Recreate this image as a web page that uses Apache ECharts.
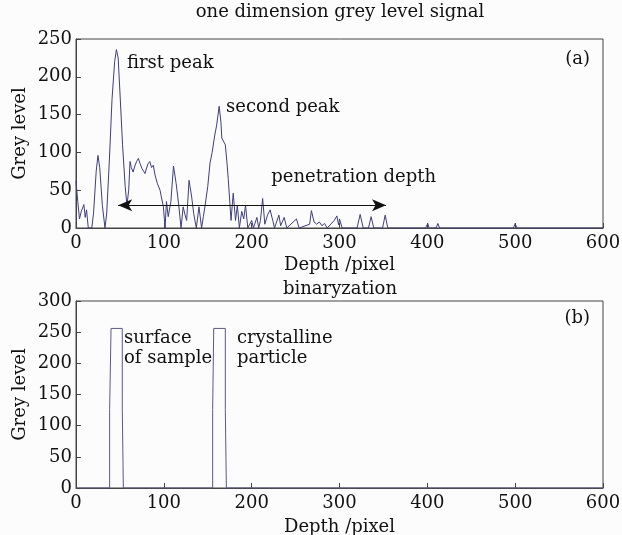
<!DOCTYPE html>
<html>
<head>
<meta charset="utf-8">
<script src="https://cdn.jsdelivr.net/npm/echarts@6/dist/echarts.min.js"></script>
<style>
  html, body { margin: 0; padding: 0; background: #fcfcfc; }
  #chart { width: 622px; height: 535px; }
</style>
</head>
<body>
<div id="chart"></div>
<script>
// (a) one dimension grey level signal
const depthA = [0, 2, 4, 6, 9, 10.5, 12, 14, 18, 20, 23, 25, 27, 30, 33, 35, 38, 41, 44, 46, 48, 50, 53, 56, 58, 60,
	61.5, 63, 65, 67, 69, 71, 73, 75, 77, 78.6, 80, 82, 84, 86, 88, 90, 92.6, 95.7, 97, 99.5, 101.4, 103, 105, 108,
	111, 114, 117, 119.6, 122, 124, 126, 128.7, 131.7, 134, 137, 140, 143, 145, 147, 150, 152.6, 155, 158, 160, 163,
	165, 166, 168, 170, 172, 173.4, 176.5, 179, 181.6, 183.7, 186, 188.7, 191, 193, 195.6, 200, 202, 206, 208, 210,
	212.5, 215, 218, 221, 224, 226, 231, 233, 237, 240, 251, 254, 266, 268, 271, 274, 277, 280, 283, 286, 294, 297,
	299, 300, 303, 320, 323.5, 327, 333, 336, 339, 349, 352, 355, 398, 400.5, 402, 410, 412, 414, 498, 500, 502, 600];
const greyA = [62, 35, 12, 22, 31, 14, 24, 0, 0, 20, 75, 96, 80, 30, 0, 20, 90, 170, 220, 236, 225, 180, 110, 55, 30, 50,
	88, 80, 74, 82, 88, 92, 85, 79, 75, 72, 78, 85, 88, 80, 83, 70, 59, 50, 42, 28, 0, 35, 15, 35,
	82, 59, 30, 0, 28, 18, 10, 63, 41, 19, 0, 28, 0, 15, 30, 55, 86, 100, 123, 135, 161,
	140, 119, 121, 110, 85, 64, 10, 46, 10, 30, 0, 22, 12, 30, 0, 10, 0, 14, 0, 10,
	39, 5, 17, 24, 10, 0, 17, 3, 14, 0, 12, 0, 5, 23, 8, 5, 8, 3, 6, 0, 10, 16,
	4, 12, 0, 0, 18, 0, 0, 15, 0, 0, 17, 0, 0, 6, 0, 0, 6, 0, 0, 6, 0, 0];

// (b) binaryzation
const depthB = [0, 38.3, 38.3, 39.9, 39.9, 52.7, 52.7, 53.9, 53.9, 155.6, 155.6, 156.8, 156.8, 170, 170, 171.2, 171.2, 600];
const greyB = [0, 0, 126, 126, 256, 256, 126, 126, 0, 0, 126, 126, 256, 256, 126, 126, 0, 0];

// penetration depth arrow
const arrowFrom = [48, 30];
const arrowTo = [353, 30];

const font = 'DejaVu Serif';
const fs = 18;
const ink = '#111';
const zip = (xs, ys) => xs.map((x, i) => [x, ys[i]]);

const myChart = echarts.init(document.getElementById('chart'));

const xAxisCommon = {
	type: 'value',
	min: 0,
	max: 600,
	interval: 100,
	name: 'Depth /pixel',
	nameLocation: 'middle',
	nameMoveOverlap: false,
	nameTextStyle: { fontFamily: font, fontSize: fs, color: ink },
	axisLine: { lineStyle: { color: '#444', width: 1 } },
	axisTick: { inside: true, length: 5, lineStyle: { color: '#444' } },
	axisLabel: { fontFamily: font, fontSize: fs, color: ink, margin: 6 },
	splitLine: { show: false }
};
const yAxisCommon = {
	type: 'value',
	min: 0,
	interval: 50,
	name: 'Grey level',
	nameLocation: 'middle',
	nameMoveOverlap: false,
	nameGap: 47,
	nameTextStyle: { fontFamily: font, fontSize: fs, color: ink },
	axisLine: { lineStyle: { color: '#444', width: 1 } },
	axisTick: { inside: true, length: 5, lineStyle: { color: '#444' } },
	axisLabel: { fontFamily: font, fontSize: fs, color: ink, margin: 4 },
	splitLine: { show: false }
};

const label = (text, x, y, align) => ({
	type: 'text',
	x: x,
	y: y,
	style: {
		text: text,
		fontFamily: font,
		fontSize: fs,
		lineHeight: 20,
		fill: ink,
		align: align || 'left',
		verticalAlign: 'middle'
	}
});

const option = {
	backgroundColor: '#fcfcfc',
	animation: false,
	grid: [
		{ left: 76, top: 39, right: 19, height: 189, outerBoundsMode: 'none', show: true, borderColor: '#444', borderWidth: 1 },
		{ left: 76, top: 301, right: 19, height: 187, outerBoundsMode: 'none', show: true, borderColor: '#444', borderWidth: 1 }
	],
	xAxis: [
		Object.assign({}, xAxisCommon, { gridIndex: 0, nameGap: 28 }),
		Object.assign({}, xAxisCommon, { gridIndex: 1, nameGap: 30 })
	],
	yAxis: [
		Object.assign({}, yAxisCommon, { gridIndex: 0, max: 250 }),
		Object.assign({}, yAxisCommon, { gridIndex: 1, max: 300 })
	],
	graphic: [
		label('one dimension grey level signal', 340, 12, 'center'),
		label('binaryzation', 340, 289, 'center'),
		label('first peak', 127, 63),
		label('second peak', 226, 107),
		label('penetration depth', 436, 177, 'right'),
		label('(a)', 590, 59, 'right'),
		label('(b)', 590, 318, 'right'),
		label('surface\nof sample', 124, 348),
		label('crystalline\nparticle', 237, 348)
	],
	series: [
		{
			type: 'line',
			xAxisIndex: 0,
			yAxisIndex: 0,
			data: zip(depthA, greyA),
			showSymbol: false,
			lineStyle: { color: '#3e3e80', width: 1 },
			markLine: {
				silent: true,
				symbol: ['arrow', 'arrow'],
				symbolSize: [9, 14],
				label: { show: false },
				lineStyle: { color: '#111', width: 1, type: 'solid' },
				data: [[{ coord: arrowFrom }, { coord: arrowTo }]]
			}
		},
		{
			type: 'line',
			xAxisIndex: 1,
			yAxisIndex: 1,
			data: zip(depthB, greyB),
			showSymbol: false,
			lineStyle: { color: '#5a5a88', width: 1 }
		}
	]
};

myChart.setOption(option);
</script>
</body>
</html>
